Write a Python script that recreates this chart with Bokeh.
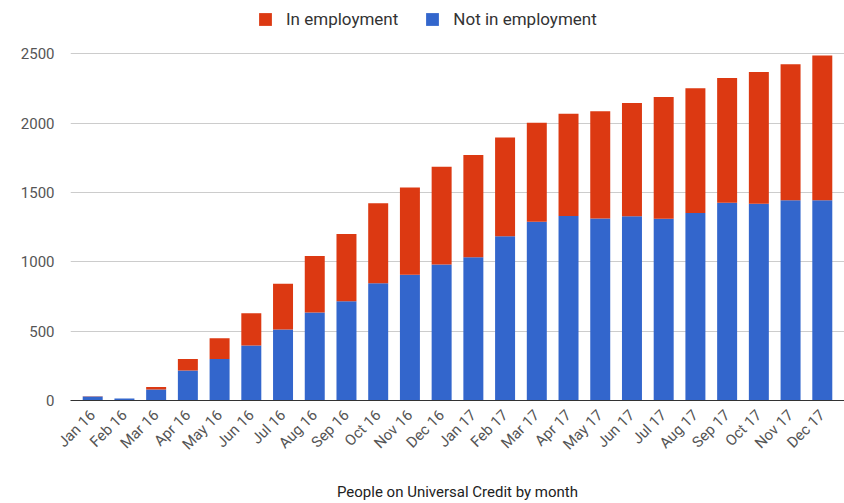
import math
from bokeh.plotting import figure
from bokeh.models import FactorRange, ColumnDataSource, Legend, LegendItem, FixedTicker
from bokeh.embed import file_html
from bokeh.resources import INLINE

months = ["Jan 16", "Feb 16", "Mar 16", "Apr 16", "May 16", "Jun 16", "Jul 16", "Aug 16",
          "Sep 16", "Oct 16", "Nov 16", "Dec 16", "Jan 17", "Feb 17", "Mar 17", "Apr 17",
          "May 17", "Jun 17", "Jul 17", "Aug 17", "Sep 17", "Oct 17", "Nov 17", "Dec 17"]
not_in_employment = [28, 14, 79, 216, 300, 396, 511, 634, 715, 845, 907, 980,
                     1032, 1183, 1289, 1330, 1311, 1328, 1310, 1352, 1426, 1418, 1443, 1443]
in_employment = [2, 1, 19, 84, 149, 233, 330, 407, 485, 576, 629, 705,
                 737, 713, 712, 736, 774, 817, 878, 898, 899, 950, 980, 1043]
y_ticks = [0, 500, 1000, 1500, 2000, 2500]

RED = "#dc3912"
BLUE = "#3366cc"
FONT = "Roboto"

totals = [a + b for a, b in zip(not_in_employment, in_employment)]
src = ColumnDataSource(dict(month=months, notemp=not_in_employment, total=totals))

# frame reaches the top of the canvas; the space above 2500 holds the legend
p = figure(width=844, height=503, output_backend="svg", toolbar_location=None,
           x_range=FactorRange(*months, range_padding=0.2, range_padding_units="absolute"),
           y_range=(0, 2883),
           min_border_left=70, min_border_right=0, min_border_top=0, min_border_bottom=102)
p.outline_line_color = None

r_not = p.vbar(x="month", bottom=0, top="notemp", width=0.63, source=src,
               fill_color=BLUE, line_color=None)
r_in = p.vbar(x="month", bottom="notemp", top="total", width=0.63, source=src,
              fill_color=RED, line_color=None)

p.xgrid.grid_line_color = None
p.ygrid.grid_line_color = "#cccccc"
p.ygrid.grid_line_width = 1

p.yaxis.ticker = FixedTicker(ticks=y_ticks)
p.yaxis.axis_line_color = None
p.yaxis.major_tick_line_color = None
p.yaxis.minor_tick_line_color = None
p.yaxis.major_label_text_font = FONT
p.yaxis.major_label_text_font_size = "15px"
p.yaxis.major_label_text_color = "#555555"
p.yaxis.major_label_standoff = 10

p.xaxis.axis_line_color = "#333333"
p.xaxis.axis_line_width = 1
p.xaxis.major_tick_line_color = None
p.xaxis.minor_tick_line_color = None
p.xaxis.major_label_orientation = math.pi / 4
p.xaxis.major_label_text_font = FONT
p.xaxis.major_label_text_font_size = "15px"
p.xaxis.major_label_text_color = "#555555"
p.xaxis.major_label_standoff = 6
p.xaxis.axis_label = "People on Universal Credit by month"
p.xaxis.axis_label_text_font = FONT
p.xaxis.axis_label_text_font_size = "15px"
p.xaxis.axis_label_text_font_style = "normal"
p.xaxis.axis_label_text_color = "#222222"
p.xaxis.axis_label_standoff = 20

legend = Legend(items=[LegendItem(label="In employment", renderers=[r_in]),
                       LegendItem(label="Not in employment", renderers=[r_not])],
                orientation="horizontal", location=(187, 371),
                border_line_color=None, background_fill_alpha=0,
                label_text_font=FONT, label_text_font_size="17px",
                label_text_color="#333333", glyph_width=16, glyph_height=16,
                label_height=20, padding=5, margin=0, spacing=26, label_standoff=13)
p.add_layout(legend)

open("out.html", "w").write(file_html(p, INLINE))
